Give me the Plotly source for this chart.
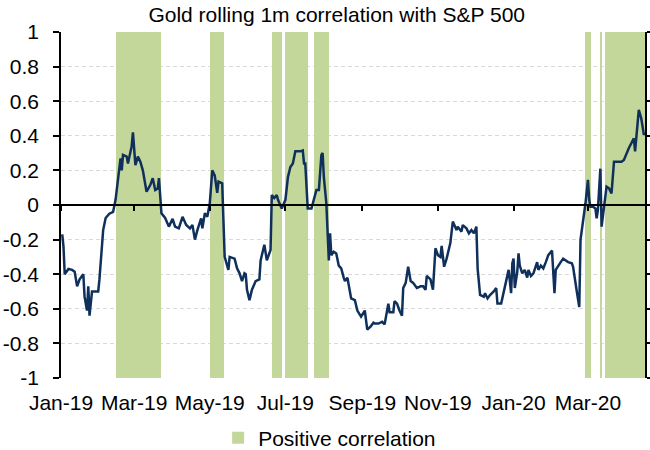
import pandas as pd
import plotly.graph_objects as go

# ---- data ----
dates = [
    "2019-01-02", "2019-01-03", "2019-01-04", "2019-01-07", "2019-01-10", "2019-01-12", "2019-01-14",
    "2019-01-16", "2019-01-19", "2019-01-20", "2019-01-22", "2019-01-23", "2019-01-24", "2019-01-26",
    "2019-01-28", "2019-01-31", "2019-02-01", "2019-02-03", "2019-02-04", "2019-02-06", "2019-02-09",
    "2019-02-12", "2019-02-14", "2019-02-18", "2019-02-19", "2019-02-20", "2019-02-23", "2019-02-24",
    "2019-02-27", "2019-02-28", "2019-03-02", "2019-03-04", "2019-03-06", "2019-03-08", "2019-03-11",
    "2019-03-14", "2019-03-16", "2019-03-18", "2019-03-20", "2019-03-21", "2019-03-23", "2019-03-26",
    "2019-03-29", "2019-04-01", "2019-04-03", "2019-04-06", "2019-04-09", "2019-04-12", "2019-04-15",
    "2019-04-17", "2019-04-19", "2019-04-21", "2019-04-24", "2019-04-25", "2019-04-27", "2019-04-29",
    "2019-05-01", "2019-05-03", "2019-05-05", "2019-05-07", "2019-05-08", "2019-05-11", "2019-05-12",
    "2019-05-13", "2019-05-16", "2019-05-17", "2019-05-21", "2019-05-23", "2019-05-25", "2019-05-27",
    "2019-05-29", "2019-05-30", "2019-05-31", "2019-06-02", "2019-06-04", "2019-06-07", "2019-06-10",
    "2019-06-11", "2019-06-14", "2019-06-16", "2019-06-19", "2019-06-20", "2019-06-22", "2019-06-24",
    "2019-06-25", "2019-06-28", "2019-07-01", "2019-07-03", "2019-07-05", "2019-07-07", "2019-07-09",
    "2019-07-13", "2019-07-15", "2019-07-16", "2019-07-17", "2019-07-19", "2019-07-22", "2019-07-24",
    "2019-07-26", "2019-07-28", "2019-07-30", "2019-07-31", "2019-08-01", "2019-08-03", "2019-08-05",
    "2019-08-06", "2019-08-07", "2019-08-09", "2019-08-11", "2019-08-13", "2019-08-15", "2019-08-17",
    "2019-08-18", "2019-08-20", "2019-08-23", "2019-08-26", "2019-08-28", "2019-08-31", "2019-09-03",
    "2019-09-05", "2019-09-08", "2019-09-10", "2019-09-11", "2019-09-14", "2019-09-17", "2019-09-19",
    "2019-09-22", "2019-09-23", "2019-09-26", "2019-09-27", "2019-09-29", "2019-10-01", "2019-10-03",
    "2019-10-04", "2019-10-06", "2019-10-08", "2019-10-10", "2019-10-12", "2019-10-15", "2019-10-18",
    "2019-10-20", "2019-10-22", "2019-10-23", "2019-10-26", "2019-10-28", "2019-10-30", "2019-11-01",
    "2019-11-03", "2019-11-04", "2019-11-06", "2019-11-08", "2019-11-11", "2019-11-13", "2019-11-16",
    "2019-11-17", "2019-11-20", "2019-11-21", "2019-11-24", "2019-11-26", "2019-11-28", "2019-11-30",
    "2019-12-02", "2019-12-03", "2019-12-05", "2019-12-08", "2019-12-09", "2019-12-11", "2019-12-13",
    "2019-12-16", "2019-12-18", "2019-12-19", "2019-12-22", "2019-12-24", "2019-12-26", "2019-12-28",
    "2019-12-29", "2019-12-30", "2019-12-31", "2020-01-01", "2020-01-02", "2020-01-04", "2020-01-05",
    "2020-01-06", "2020-01-08", "2020-01-10", "2020-01-12", "2020-01-13", "2020-01-15", "2020-01-17",
    "2020-01-20", "2020-01-21", "2020-01-23", "2020-01-25", "2020-01-27", "2020-01-29", "2020-02-01",
    "2020-02-02", "2020-02-03", "2020-02-04", "2020-02-06", "2020-02-08", "2020-02-10", "2020-02-12",
    "2020-02-14", "2020-02-17", "2020-02-18", "2020-02-21", "2020-02-23", "2020-02-24", "2020-02-26",
    "2020-02-28", "2020-03-01", "2020-03-02", "2020-03-03", "2020-03-05", "2020-03-07", "2020-03-08",
    "2020-03-09", "2020-03-11", "2020-03-12", "2020-03-13", "2020-03-15", "2020-03-16", "2020-03-18",
    "2020-03-20", "2020-03-22", "2020-03-25", "2020-03-28", "2020-03-30", "2020-04-01", "2020-04-03",
    "2020-04-07", "2020-04-08", "2020-04-11", "2020-04-13", "2020-04-15", "2020-04-16",
]

correlation = [
    -0.17, -0.24, -0.40, -0.37, -0.375, -0.385, -0.47,
    -0.43, -0.40, -0.53, -0.61, -0.47, -0.64, -0.50,
    -0.50, -0.50, -0.43, -0.24, -0.145, -0.075, -0.05,
    -0.04, 0.03, 0.27, 0.20, 0.29, 0.28, 0.24,
    0.34, 0.42, 0.23, 0.28, 0.25, 0.20, 0.077,
    0.115, 0.155, 0.087, 0.096, 0.155, -0.048, -0.075,
    -0.125, -0.08, -0.125, -0.135, -0.068, -0.115, -0.135,
    -0.115, -0.20, -0.145, -0.077, -0.135, -0.048, -0.068,
    0.01, 0.20, 0.17, 0.07, 0.135, 0.125, -0.106,
    -0.30, -0.375, -0.30, -0.31, -0.366, -0.395, -0.44,
    -0.395, -0.40, -0.49, -0.55, -0.49, -0.44, -0.43,
    -0.32, -0.23, -0.32, -0.26, 0.058, 0.04, 0.058,
    0.03, -0.02, 0.03, 0.16, 0.22, 0.24, 0.31,
    0.31, 0.315, 0.24, 0.24, -0.02, -0.02, 0.03,
    0.087, 0.087, 0.29, 0.30, 0.16, 0.01, -0.32,
    -0.164, -0.29, -0.27, -0.28, -0.35, -0.366, -0.42,
    -0.44, -0.42, -0.54, -0.55, -0.61, -0.645, -0.61,
    -0.72, -0.70, -0.68, -0.685, -0.685, -0.675, -0.69,
    -0.57, -0.62, -0.62, -0.555, -0.57, -0.61, -0.64,
    -0.48, -0.45, -0.357, -0.44, -0.45, -0.48, -0.47,
    -0.47, -0.49, -0.41, -0.43, -0.49, -0.25, -0.29,
    -0.30, -0.237, -0.357, -0.31, -0.22, -0.096, -0.145,
    -0.125, -0.154, -0.116, -0.135, -0.164, -0.145, -0.164,
    -0.125, -0.366, -0.52, -0.53, -0.51, -0.54, -0.52,
    -0.50, -0.48, -0.57, -0.57, -0.50, -0.44, -0.375,
    -0.44, -0.51, -0.337, -0.31, -0.48, -0.385, -0.28,
    -0.35, -0.395, -0.375, -0.42, -0.375, -0.41, -0.395,
    -0.33, -0.375, -0.35, -0.366, -0.33, -0.29, -0.264,
    -0.41, -0.51, -0.375, -0.35, -0.33, -0.31, -0.32,
    -0.33, -0.337, -0.357, -0.50, -0.59, -0.20, -0.106,
    0.01, 0.145, 0.03, -0.01, -0.01, -0.02, -0.077,
    -0.03, 0.21, -0.125, -0.068, 0.03, 0.106, 0.096,
    0.067, 0.25, 0.25, 0.25, 0.26, 0.30, 0.33,
    0.385, 0.31, 0.55, 0.50, 0.41, 0.41,
]

tick_dates = ["2019-01-01", "2019-03-01", "2019-05-01", "2019-07-01",
              "2019-09-01", "2019-11-01", "2020-01-01", "2020-03-01"]
tick_labels = ["Jan-19", "Mar-19", "May-19", "Jul-19",
               "Sep-19", "Nov-19", "Jan-20", "Mar-20"]
y_ticks = [1, 0.8, 0.6, 0.4, 0.2, 0, -0.2, -0.4, -0.6, -0.8, -1]
y_tick_labels = ["1", "0.8", "0.6", "0.4", "0.2", "0", "-0.2", "-0.4", "-0.6", "-0.8", "-1"]
x_range = ["2019-01-01", "2020-04-16"]
y_range = [-1, 1]
title_text = "Gold rolling 1m correlation with S&P 500"
legend_name = "Positive correlation"

# ---- styling ----
GREEN = "#C4D79B"
NAVY = "#10305C"
FONT = "Liberation Sans, Arial, sans-serif"
FS = 21

# ---- shading: periods where the correlation is positive ----
d = pd.to_datetime(pd.Series(dates))
nxt = d.shift(-1).fillna(pd.Timestamp(x_range[1]))
span_ms = ((nxt - d).dt.total_seconds() * 1000).tolist()
shade_x, shade_w = [], []
for i, c in enumerate(correlation):
    if c > 0:
        shade_x.append(dates[i])
        shade_w.append(span_ms[i])
full_span = y_range[1] - y_range[0]

fig = go.Figure()
fig.add_trace(go.Bar(
    x=shade_x, y=[full_span] * len(shade_x), base=y_range[0], width=shade_w, offset=0,
    marker=dict(color=GREEN, line=dict(width=0)),
    name=legend_name, showlegend=True, xaxis="x", yaxis="y",
    hoverinfo="skip",
))
fig.add_trace(go.Scatter(
    x=dates, y=correlation, mode="lines",
    line=dict(color=NAVY, width=2.5),
    showlegend=False, xaxis="x2", yaxis="y",
))

fig.update_layout(
    width=650, height=450,
    paper_bgcolor="white", plot_bgcolor="white",
    margin=dict(l=61, r=5, t=32, b=72, autoexpand=False),
    font=dict(family=FONT, size=FS, color="#000000"),
    bargap=0,
    title=dict(text=title_text, x=0.518, xref="container", xanchor="center",
               y=1 - 15 / 450, yref="container", yanchor="middle",
               font=dict(size=FS)),
    xaxis=dict(
        type="date", range=x_range, tickvals=tick_dates, ticktext=tick_labels,
        showgrid=False, showline=False, zeroline=False, automargin=False,
        ticks="outside", ticklen=6, tickcolor="rgba(0,0,0,0)",
        tickfont=dict(size=FS),
    ),
    xaxis2=dict(
        type="date", overlaying="x", range=x_range, anchor="free", position=0.5,
        tickvals=tick_dates, showticklabels=False, showgrid=False, zeroline=False,
        showline=True, linecolor="#000000", linewidth=1.5, automargin=False,
        ticks="outside", ticklen=5, tickcolor="#000000", tickwidth=1.5,
    ),
    yaxis=dict(
        range=y_range, tickvals=y_ticks, ticktext=y_tick_labels, automargin=False,
        showline=True, linecolor="#000000", linewidth=1.5, mirror="ticks",
        ticks="outside", ticklen=6, tickcolor="#000000", tickwidth=1.5,
        ticklabelstandoff=10,
        showgrid=True, gridcolor="#D9D9D9", griddash="4px,3px", gridwidth=1,
        zeroline=False, tickfont=dict(size=FS),
    ),
    legend=dict(orientation="h", x=0.46, xanchor="center",
                y=-(438 - 378) / 346, yanchor="middle",
                font=dict(size=FS), itemwidth=30),
)

fig.write_html("out.html", config={"displayModeBar": False},
               post_script="document.body.style.margin='0';")
